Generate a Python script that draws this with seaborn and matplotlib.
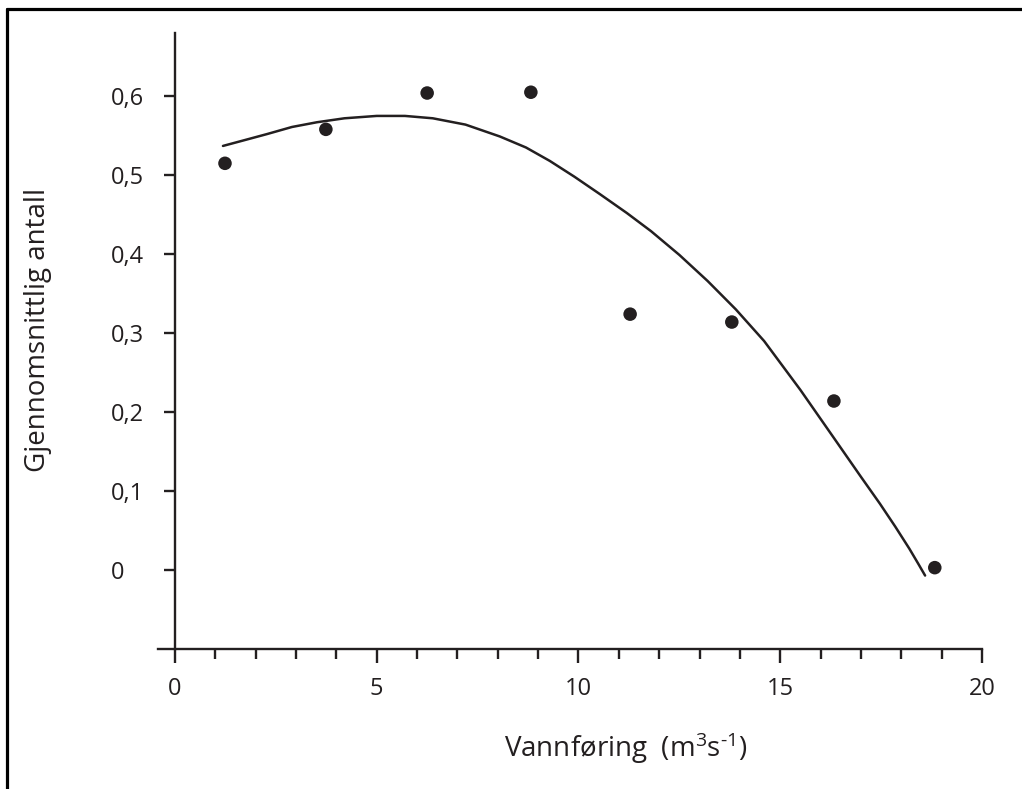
import numpy as np
import pandas as pd
import seaborn as sns
import matplotlib.pyplot as plt
from matplotlib.lines import Line2D
from matplotlib.ticker import MultipleLocator, FuncFormatter

# observed points
vannforing = [1.24, 3.74, 6.25, 8.82, 11.28, 13.80, 16.33, 18.83]
antall = [0.515, 0.558, 0.604, 0.605, 0.324, 0.314, 0.214, 0.003]

# fitted curve
kurve_x = [1.19, 1.7, 2.28, 2.9, 3.52, 4.2, 5.0, 5.7, 6.39, 7.2, 8.05, 8.7, 9.29, 9.9, 10.53,
           11.2, 11.8, 12.5, 13.2, 13.9, 14.6, 15.5, 16.36, 17.0, 17.47, 17.85, 18.2, 18.42, 18.59]
kurve_y = [0.537, 0.544, 0.552, 0.561, 0.567, 0.572, 0.575, 0.575, 0.572, 0.564, 0.549, 0.535, 0.518, 0.498, 0.476,
           0.452, 0.429, 0.399, 0.366, 0.330, 0.290, 0.228, 0.165, 0.118, 0.084, 0.055, 0.027, 0.008, -0.007]

x_ticks = [0, 5, 10, 15, 20]
y_ticks = [0, 0.1, 0.2, 0.3, 0.4, 0.5, 0.6]

sns.set_style('ticks')
plt.rcParams['font.family'] = ['Open Sans', 'DejaVu Sans']
plt.rcParams['mathtext.fontset'] = 'custom'
plt.rcParams['mathtext.rm'] = 'Open Sans'
plt.rcParams['mathtext.it'] = 'Open Sans'

ink = '#231f20'
fig = plt.figure(figsize=(10.22, 7.89), dpi=100)
ax = fig.add_axes([158 / 1022, 1 - 649 / 789, 824 / 1022, 616 / 789])

pts = pd.DataFrame({'x': vannforing, 'y': antall})
fit = pd.DataFrame({'x': kurve_x, 'y': kurve_y})
sns.lineplot(data=fit, x='x', y='y', sort=False, color=ink, linewidth=1.8, ax=ax)
sns.scatterplot(data=pts, x='x', y='y', color=ink, s=95, edgecolor='none', ax=ax, zorder=3)

ax.set_xlim(-0.42, 20)
ax.set_ylim(-0.1, 0.68)
ax.spines['left'].set_position(('data', 0))
ax.spines['top'].set_visible(False)
ax.spines['right'].set_visible(False)
for s in ['left', 'bottom']:
    ax.spines[s].set_linewidth(1.7)
    ax.spines[s].set_color(ink)

ax.set_xticks(x_ticks)
ax.xaxis.set_minor_locator(MultipleLocator(1))
ax.set_yticks(y_ticks)
ax.yaxis.set_major_formatter(FuncFormatter(lambda v, p: ('%g' % round(v, 1)).replace('.', ',')))
ax.tick_params(axis='x', which='major', length=10, width=1.7, color=ink, labelsize=17, pad=10, labelcolor=ink)
ax.tick_params(axis='x', which='minor', length=7, width=1.7, color=ink)
ax.tick_params(axis='y', which='major', length=8, width=1.7, color=ink, labelsize=17, pad=38, labelcolor=ink)
for lab in ax.get_yticklabels():
    lab.set_horizontalalignment('left')

ax.set_xlabel(r'Vannføring  (m$^{3}$s$^{\text{-}1}$)', fontsize=20, color=ink)
ax.xaxis.label.set_va('center')
ax.xaxis.set_label_coords(0.568, -0.161)
ax.set_ylabel('Gjennomsnittlig antall', fontsize=20, color=ink)
ax.yaxis.label.set_va('center')
ax.yaxis.set_label_coords(-0.146, 0.518)

# frame lines (top and left)
fig.add_artist(Line2D([7 / 1022, 1], [1 - 9 / 789, 1 - 9 / 789], transform=fig.transFigure, color='black', linewidth=2.3))
fig.add_artist(Line2D([7 / 1022, 7 / 1022], [0, 1 - 9 / 789], transform=fig.transFigure, color='black', linewidth=2.3))

fig.savefig('out.png', dpi=100)
